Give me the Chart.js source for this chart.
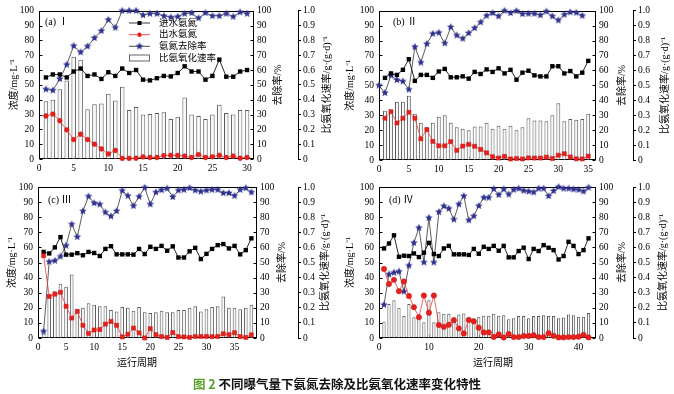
<!DOCTYPE html>
<html>
<head>
<meta charset="utf-8">
<script src="https://cdn.jsdelivr.net/npm/chart.js@4/dist/chart.umd.min.js"></script>
<style>
  body { margin: 0; width: 674px; height: 394px; background: #fff; position: relative; overflow: hidden; }
  canvas { position: absolute; }
  #cap { position: absolute; left: 0; top: 374px; width: 674px; line-height: 16px; text-align: center;
         font: bold 12.5px "Noto Sans CJK SC", sans-serif; color: #111; }
  #cap span { color: #5a9e2c; }
</style>
</head>
<body>
<canvas id="ca" width="335" height="175" style="left:0;top:0"></canvas>
<canvas id="cb" width="339" height="175" style="left:335px;top:0"></canvas>
<canvas id="cc" width="335" height="200" style="left:0;top:175px"></canvas>
<canvas id="cd" width="339" height="200" style="left:335px;top:175px"></canvas>
<div id="cap"><span>图 2</span> 不同曝气量下氨氮去除及比氨氧化速率变化特性</div>
<script>
// 运行周期 (cycle numbers)
function cycles(from, to) { const r = []; for (let i = from; i <= to; i++) r.push(i); return r; }
const cycA = cycles(1, 30);
const cycB = cycles(1, 35);
const cycBRem = cycles(0, 34);
const cycC = cycles(1, 38);
const cycD = cycles(1, 42);

// (a) I
const inA = [55, 57, 57, 55, 59, 61, 56, 57, 54, 58.5, 56, 61, 58, 60, 53.5, 53, 54.5, 56, 55.7, 58, 62.5, 59, 59, 53.5, 56, 67, 55.5, 55.5, 59, 60];
const outA = [29, 30.3, 25.8, 19.6, 13.1, 16.7, 13.1, 10, 6.8, 3.4, 5.8, 0.4, 0.4, 0.5, 1.4, 1, 1, 2.3, 2.5, 2.4, 2, 1, 3, 1, 1.5, 2.5, 1, 2, 0.5, 1];
const remA = [47, 46.3, 54, 63.6, 76.3, 72, 76, 81.6, 86.4, 93.9, 88.6, 100, 100, 100, 97, 98, 98, 96.5, 95.5, 96, 98, 98.5, 95, 98.5, 96.5, 96.5, 98, 96, 99, 98];
const rateA = [0.39, 0.40, 0.47, 0.53, 0.69, 0.67, 0.335, 0.37, 0.375, 0.44, 0.395, 0.487, 0.33, 0.35, 0.30, 0.303, 0.31, 0.315, 0.27, 0.285, 0.415, 0.30, 0.29, 0.27, 0.30, 0.365, 0.31, 0.30, 0.33, 0.33];

// (b) II
const inB = [55, 58, 57, 60.4, 67.5, 53, 57, 57, 55, 59.3, 61, 55.4, 55.4, 56, 54.5, 59, 57.6, 60.7, 59, 61.4, 58, 60.4, 53.8, 58.5, 59.8, 56.7, 56, 56, 62.8, 62.8, 58, 59.6, 56, 58.5, 66.4];
const outB = [28, 32.4, 24.8, 28, 32, 28, 14.2, 20.3, 12.5, 9.5, 9.5, 12.3, 6.5, 9.3, 10.5, 9.2, 7.1, 4.8, 2.2, 1.3, 2.4, 0.7, 1, 0.7, 1.4, 1.3, 1.3, 1.9, 1, 3.2, 4.2, 2, 0.8, 0.7, 2.6];
const remB = [50, 45, 56.7, 53.6, 52.7, 47.2, 75.8, 65.3, 77.8, 84.6, 85.3, 78.2, 89, 83.5, 81.3, 85, 88.4, 92.3, 96.7, 98.5, 96.3, 100, 98.5, 99.8, 97.8, 98, 98, 97, 99.5, 96.3, 93.6, 97.4, 99, 98.7, 96.7];
const rateB = [0.33, 0.32, 0.39, 0.39, 0.43, 0.31, 0.25, 0.22, 0.25, 0.29, 0.30, 0.25, 0.22, 0.21, 0.20, 0.225, 0.225, 0.25, 0.21, 0.23, 0.21, 0.23, 0.20, 0.22, 0.28, 0.265, 0.265, 0.26, 0.30, 0.38, 0.26, 0.275, 0.27, 0.275, 0.31];

// (c) III
const inC = [57, 56, 60, 66.8, 55.2, 55.2, 56.2, 54.8, 57, 56.3, 54.3, 59, 60.8, 55.4, 55.4, 55.4, 55.2, 59, 55.6, 60.4, 59, 61, 57.8, 60.7, 53.3, 53.3, 57.4, 59.7, 52.3, 55.7, 59, 61.5, 62.2, 59.3, 61, 55.4, 58.2, 66];
const outC = [54.5, 27.5, 29, 30.3, 21, 13.2, 17.6, 8.4, 3, 5.3, 5.6, 9.2, 11, 8.4, 0.7, 2.5, 6.6, 3.4, 0, 6.2, 2.2, 0.9, 0.4, 3.6, 0.9, 0.7, 0.4, 1, 1, 1, 0.9, 1, 2.8, 2.2, 3.5, 0.9, 0.4, 2.1];
const remC = [4.4, 50.5, 51.2, 54, 61.2, 75.3, 67, 84, 93.8, 89.4, 88.5, 83.2, 80.6, 84.1, 97.6, 94.2, 87.5, 93.6, 99.6, 88.6, 96.5, 98, 99, 93.4, 97.8, 98.2, 99.3, 97.8, 97, 97.8, 98.2, 98.2, 96, 96, 94.2, 98.2, 99.3, 96.5];
const rateC = [0.03, 0.29, 0.31, 0.36, 0.34, 0.42, 0.19, 0.20, 0.23, 0.22, 0.21, 0.21, 0.185, 0.175, 0.205, 0.20, 0.18, 0.205, 0.17, 0.165, 0.17, 0.18, 0.17, 0.17, 0.185, 0.185, 0.20, 0.21, 0.175, 0.19, 0.205, 0.21, 0.275, 0.20, 0.20, 0.19, 0.20, 0.22];

// (d) IV
const inD = [59.3, 62.6, 68, 53.8, 54.5, 54.3, 56, 53.6, 56.5, 63, 55.6, 54.3, 59.3, 61, 55.4, 55.4, 55.4, 55, 59, 55.8, 60.4, 59, 61, 57.8, 61, 53.4, 53.4, 57.6, 59.8, 52.3, 59, 57.6, 61.5, 59.8, 58.2, 52, 54.3, 63.7, 61, 55.6, 58.2, 66];
const outD = [45.7, 35.8, 38.5, 31, 37.4, 27.8, 20.4, 13.8, 28.1, 16.7, 28.1, 8.6, 7.4, 8.8, 11.8, 6.4, 3, 12, 11, 6.8, 3.7, 3.7, 0.7, 2.4, 0.3, 2.6, 0.6, 0.6, 1.3, 1.3, 1.8, 0.6, 0.6, 3.2, 1.4, 0.4, 0.4, 0.6, 0.6, 0.8, 2.1, 0.4];
const remD = [22, 42.2, 43.3, 44, 30.8, 48, 63, 73, 50.1, 79.6, 50.1, 83.5, 87.3, 85.7, 78.5, 88.6, 94, 78, 80.7, 87.5, 93, 93, 98.7, 94.8, 98.5, 95.1, 98.2, 99, 97.6, 97.1, 96.5, 99, 99, 94, 97.4, 100, 99, 99, 98.5, 98.2, 97.1, 99.6];
const rateD = [0.11, 0.225, 0.25, 0.20, 0.145, 0.225, 0.137, 0.14, 0.105, 0.25, 0.105, 0.17, 0.16, 0.16, 0.136, 0.155, 0.163, 0.136, 0.13, 0.14, 0.147, 0.147, 0.16, 0.147, 0.15, 0.125, 0.13, 0.145, 0.145, 0.13, 0.145, 0.145, 0.15, 0.145, 0.145, 0.13, 0.135, 0.155, 0.15, 0.14, 0.14, 0.165];

const legendLabels = ['进水氨氮', '出水氨氮', '氨氮去除率', '比氨氧化速率'];
const titleLeft = '浓度/mg·L⁻¹';
const titleMid = '去除率/%';
const titleRight = '比氨氧化速率/g·(g·d)⁻¹';
const titleX = '运行周期';

const FONT = '"Liberation Serif", "Noto Sans CJK SC", serif';
const STAR_BLUE = '#2f3190';

// 五角星点样式
function makeStar(r, color) {
    const s = Math.ceil(r * 2) + 2;
    const c = document.createElement('canvas');
    c.width = s; c.height = s;
    const g = c.getContext('2d');
    g.fillStyle = color;
    g.beginPath();
    for (let i = 0; i < 10; i++) {
        const rr = i % 2 ? r * 0.45 : r;
        const ang = -Math.PI / 2 + i * Math.PI / 5;
        g.lineTo(s / 2 + rr * Math.cos(ang), s / 2 + rr * Math.sin(ang));
    }
    g.closePath();
    g.fill();
    return c;
}
const star = makeStar(4, STAR_BLUE);

function pts(xs, ys) {
    return xs.map((x, i) => ({ x: x, y: ys[i] }));
}

// 坐标框 + 朝内刻度
const framePlugin = {
    id: 'frame',
    beforeDatasetsDraw(chart) {
        const { ctx, chartArea: a, scales } = chart;
        const L = Math.round(a.left) + 0.5, R = Math.round(a.right) - 0.5;
        const T = Math.round(a.top) + 0.5, B = Math.round(a.bottom) - 0.5;
        ctx.save();
        ctx.strokeStyle = '#000';
        ctx.lineWidth = 1;
        ctx.strokeRect(L, T, R - L, B - T);
        ctx.beginPath();
        scales.y.ticks.forEach(t => {
            const p = Math.round(scales.y.getPixelForValue(t.value)) + 0.5;
            ctx.moveTo(L, p); ctx.lineTo(L + 3, p);
        });
        scales.y1.ticks.forEach(t => {
            const p = Math.round(scales.y1.getPixelForValue(t.value)) + 0.5;
            ctx.moveTo(R, p); ctx.lineTo(R - 3, p);
        });
        scales.x.ticks.forEach(t => {
            const p = Math.round(scales.x.getPixelForValue(t.value)) + 0.5;
            ctx.moveTo(p, B); ctx.lineTo(p, B - 3);
        });
        ctx.stroke();
        ctx.restore();
    }
};

function vtext(ctx, s, x, y) {
    ctx.save();
    ctx.translate(x, y);
    ctx.rotate(-Math.PI / 2);
    ctx.textAlign = 'center';
    ctx.textBaseline = 'middle';
    ctx.fillText(s, 0, 0);
    ctx.restore();
}

// 坐标轴标题、分图标号、图例
const textPlugin = {
    id: 'panelText',
    afterDraw(chart, args, o) {
        const { ctx, chartArea: a } = chart;
        const cy = (a.top + a.bottom) / 2;
        ctx.save();
        ctx.fillStyle = '#000';
        ctx.font = '10px ' + FONT;
        vtext(ctx, titleLeft, o.ltx, cy);
        vtext(ctx, titleMid, o.mtx, cy);
        vtext(ctx, titleRight, o.rtx, cy);
        if (o.xtx) {
            ctx.textAlign = 'center';
            ctx.textBaseline = 'middle';
            ctx.fillText(titleX, o.xtx, o.xty);
        }
        ctx.font = '10px ' + FONT;
        ctx.textAlign = 'left';
        ctx.textBaseline = 'middle';
        ctx.fillText(o.tag, o.tagx, o.tagy);

        if (o.legend) {
            const lx0 = 129, lx1 = 150, mx = 139.5, tx = 159;
            const rows = [23, 34.7, 46.3, 58];
            ctx.font = '9.5px ' + FONT;
            ctx.lineWidth = 0.9;
            // 进水氨氮
            ctx.strokeStyle = '#222';
            ctx.beginPath(); ctx.moveTo(lx0, rows[0]); ctx.lineTo(lx1, rows[0]); ctx.stroke();
            ctx.fillStyle = '#000';
            ctx.fillRect(mx - 2, rows[0] - 2, 4, 4);
            // 出水氨氮
            ctx.strokeStyle = '#e8403a';
            ctx.beginPath(); ctx.moveTo(lx0, rows[1]); ctx.lineTo(lx1, rows[1]); ctx.stroke();
            ctx.fillStyle = '#e8201c';
            ctx.beginPath(); ctx.arc(mx, rows[1], 2.2, 0, Math.PI * 2); ctx.fill();
            // 氨氮去除率
            ctx.strokeStyle = '#333';
            ctx.beginPath(); ctx.moveTo(lx0, rows[2]); ctx.lineTo(lx1, rows[2]); ctx.stroke();
            ctx.drawImage(star, mx - star.width / 2, rows[2] - star.height / 2);
            // 比氨氧化速率
            ctx.fillStyle = '#fff';
            ctx.strokeStyle = '#555';
            ctx.fillRect(lx0 + 0.5, rows[3] - 3, 20, 6);
            ctx.strokeRect(lx0 + 0.5, rows[3] - 3, 20, 6);
            ctx.fillStyle = '#000';
            legendLabels.forEach((s, i) => ctx.fillText(s, tx, rows[i]));
        }
        ctx.restore();
    }
};

function tickFont() {
    return { family: FONT, size: 9.5 };
}

function drawPanel(id, p) {
    new Chart(document.getElementById(id), {
        type: 'line',
        data: {
            datasets: [
                {
                    type: 'bar', label: legendLabels[3], data: pts(p.cyc, p.rate), yAxisID: 'y2',
                    backgroundColor: '#f8f8f8', borderColor: '#5a5a5a', borderWidth: 1,
                    barPercentage: 0.65, categoryPercentage: 1, order: 10
                },
                {
                    label: legendLabels[2], data: pts(p.remCyc, p.rem), yAxisID: 'y1',
                    borderColor: '#333', borderWidth: 0.8, pointStyle: star, pointRadius: 4,
                    order: 3, clip: false
                },
                {
                    label: legendLabels[0], data: pts(p.cyc, p.inf), yAxisID: 'y',
                    borderColor: '#111', borderWidth: 0.9, pointStyle: 'rect', pointRadius: 3.1,
                    pointBackgroundColor: '#000', pointBorderColor: '#000', pointBorderWidth: 0,
                    order: 2, clip: false
                },
                {
                    label: legendLabels[1], data: pts(p.cyc, p.eff), yAxisID: 'y',
                    borderColor: '#e8403a', borderWidth: 0.8, pointStyle: p.effStyle, pointRadius: p.effR,
                    pointBackgroundColor: '#e8201c', pointBorderColor: '#c41414', pointBorderWidth: 0.5,
                    order: 1, clip: false
                }
            ]
        },
        options: {
            responsive: false,
            animation: false,
            devicePixelRatio: 1,
            events: [],
            layout: { padding: { top: p.pt, left: 0, right: 0, bottom: 0 } },
            plugins: {
                legend: { display: false },
                tooltip: { enabled: false },
                panelText: p.text
            },
            scales: {
                x: {
                    type: 'linear', min: 0, max: p.xmax, offset: false,
                    afterFit: s => { s.height = p.xh; },
                    grid: { display: false, drawTicks: false }, border: { display: false },
                    ticks: { stepSize: p.xstep, includeBounds: false, padding: 4, color: '#000',
                             font: tickFont(), maxRotation: 0, autoSkip: false }
                },
                y: {
                    position: 'left', min: 0, max: 100,
                    afterFit: s => { s.width = p.lw; },
                    grid: { display: false, drawTicks: false }, border: { display: false },
                    ticks: { stepSize: 10, padding: 5, color: '#000', font: tickFont() }
                },
                y1: {
                    position: 'right', min: 0, max: 100, weight: 0,
                    afterFit: s => { s.width = p.r1w; },
                    grid: { display: false, drawTicks: false }, border: { display: false },
                    ticks: { stepSize: 10, padding: 3, color: '#000', font: tickFont() }
                },
                y2: {
                    position: 'right', min: 0, max: 1, weight: 1,
                    afterFit: s => { s.width = p.r2w; },
                    grid: { display: true, drawOnChartArea: false, drawTicks: true, tickLength: 3, color: '#000' },
                    border: { display: true, color: '#000', width: 1 },
                    ticks: { stepSize: 0.1, padding: 2, color: '#000', font: tickFont(),
                             callback: v => (v === 0 ? '0' : v.toFixed(1)) }
                }
            }
        },
        plugins: [framePlugin, textPlugin]
    });
}

drawPanel('ca', {
    cyc: cycA, remCyc: cycA, inf: inA, eff: outA, rem: remA, rate: rateA,
    effStyle: 'circle', effR: 2.4,
    pt: 7, lw: 39, r1w: 44, r2w: 37, xh: 16, xmax: 31, xstep: 5,
    text: { ltx: 14, mtx: 278, rtx: 327, tag: '(a) Ⅰ', tagx: 45, tagy: 22, legend: true }
});
drawPanel('cb', {
    cyc: cycB, remCyc: cycBRem, inf: inB, eff: outB, rem: remB, rate: rateB,
    effStyle: 'rect', effR: 2.9,
    pt: 8, lw: 44, r1w: 37, r2w: 41, xh: 15, xmax: 36.3, xstep: 5,
    text: { ltx: 15, mtx: 287, rtx: 330, tag: '(b) Ⅱ', tagx: 58, tagy: 22 }
});
drawPanel('cc', {
    cyc: cycC, remCyc: cycC, inf: inC, eff: outC, rem: remC, rate: rateC,
    effStyle: 'rect', effR: 2.9,
    pt: 12, lw: 38, r1w: 41, r2w: 37, xh: 37, xmax: 39, xstep: 5,
    text: { ltx: 12, mtx: 282, rtx: 325, tag: '(c) Ⅲ', tagx: 48, tagy: 25, xtx: 137, xty: 188 }
});
drawPanel('cd', {
    cyc: cycD, remCyc: cycD, inf: inD, eff: outD, rem: remD, rate: rateD,
    effStyle: 'circle', effR: 2.7,
    pt: 12, lw: 44, r1w: 37, r2w: 41, xh: 37, xmax: 43.5, xstep: 10,
    text: { ltx: 15, mtx: 287, rtx: 328, tag: '(d) Ⅳ', tagx: 54, tagy: 25, xtx: 158, xty: 188 }
});
</script>
</body>
</html>
